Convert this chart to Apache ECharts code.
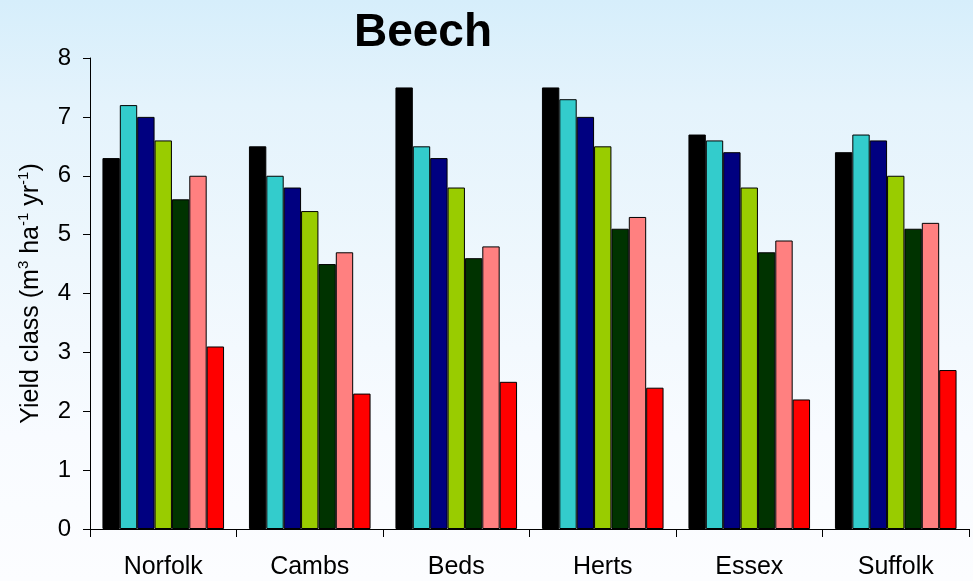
<!DOCTYPE html>
<html><head><meta charset="utf-8">
<script src="https://cdn.jsdelivr.net/npm/echarts@6/dist/echarts.min.js"></script>
<style>
html,body{margin:0;padding:0;}
body{width:973px;height:581px;background:linear-gradient(to bottom,#d6eefb 0%,#e4f3fc 18%,#eef7fd 45%,#f8fbff 75%,#fcfdff 100%);}
#c{width:973px;height:581px;}
</style></head><body>
<div id="c"></div>
<script>
const categories = ['Norfolk','Cambs','Beds','Herts','Essex','Suffolk'];
const s1 = [6.3, 6.5, 7.5, 7.5, 6.7, 6.4];
const s2 = [7.2, 6.0, 6.5, 7.3, 6.6, 6.7];
const s3 = [7.0, 5.8, 6.3, 7.0, 6.4, 6.6];
const s4 = [6.6, 5.4, 5.8, 6.5, 5.8, 6.0];
const s5 = [5.6, 4.5, 4.6, 5.1, 4.7, 5.1];
const s6 = [6.0, 4.7, 4.8, 5.3, 4.9, 5.2];
const s7 = [3.1, 2.3, 2.5, 2.4, 2.2, 2.7];
const colors = ['#000000','#33CCCC','#000080','#99CC00','#003300','#FF8080','#FF0000'];
const seriesData = [s1,s2,s3,s4,s5,s6,s7];

const chart = echarts.init(document.getElementById('c'), null, {renderer:'canvas'});
chart.setOption({
  backgroundColor: 'transparent',
  animation: false,
  title: {
    text: 'Beech', left: 418, top: 5, textAlign: 'center',
    textStyle: {fontFamily: 'Liberation Sans, Arial', fontWeight: 'bold', fontSize: 46, color: '#000'}
  },
  grid: {left: 90, right: 4, top: 58, bottom: 52, containLabel: false},
  xAxis: {
    type: 'category', data: categories,
    axisLine: {lineStyle: {color: '#000', width: 1}},
    axisTick: {show: true, length: 8, lineStyle: {color: '#000'}},
    axisLabel: {fontFamily: 'Liberation Sans, Arial', fontSize: 25, color: '#000', margin: 26}
  },
  yAxis: {
    type: 'value', min: 0, max: 8, interval: 1,
    splitLine: {show: false},
    axisLine: {show: true, lineStyle: {color: '#000', width: 1}},
    axisTick: {show: true, length: 7, lineStyle: {color: '#000'}},
    axisLabel: {fontFamily: 'Liberation Sans, Arial', fontSize: 24, color: '#000', margin: 19},
    name: '{t|Yield class (m}{s|3}{t| ha}{s|-1}{t| yr}{s|-1}{t|)}',
    nameLocation: 'middle', nameGap: 44, nameRotate: 90,
    nameTextStyle: {
      rich: {
        t: {fontFamily: 'Liberation Sans, Arial', fontSize: 25, color: '#000', lineHeight: 30},
        s: {fontFamily: 'Liberation Sans, Arial', fontSize: 15, color: '#000', verticalAlign: 'top', lineHeight: 30, padding:[0,0,12,0]}
      }
    }
  },
  series: seriesData.map((d, i) => ({
    type: 'bar', data: d, barGap: '0%', barCategoryGap: '17%',
    itemStyle: {color: colors[i], borderColor: '#000', borderWidth: 1}
  }))
});
</script>
</body></html>
